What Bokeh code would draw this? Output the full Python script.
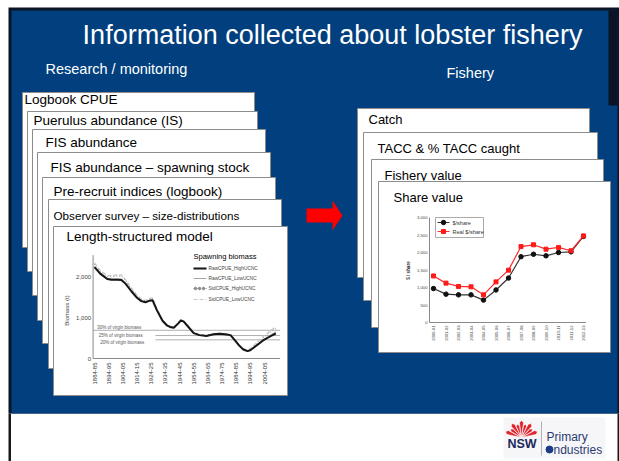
import math
from bokeh.plotting import figure
from bokeh.models import Range1d
from bokeh.core.properties import value
from bokeh.embed import file_html
from bokeh.resources import INLINE

SANS = value("Liberation Sans")

# ---------------- data ----------------
title_text = "Information collected about lobster fishery"
left_heading = "Research / monitoring"
right_heading = "Fishery"

left_cards = ["Logbook CPUE", "Puerulus abundance (IS)", "FIS abundance",
              "FIS abundance \u2013 spawning stock", "Pre-recruit indices (logbook)",
              "Observer survey \u2013 size-distributions", "Length-structured model"]
right_cards = ["Catch", "TACC & % TACC caught", "Fishery value", "Share value"]

# Spawning biomass (t) by season start year
seasons = [1884, 1888, 1893, 1896, 1900, 1903, 1906, 1910, 1914, 1917, 1920, 1923, 1925,
           1928, 1932, 1935, 1938, 1940, 1943, 1945, 1947, 1950, 1954, 1958, 1963, 1968,
           1972, 1976, 1980, 1983, 1986, 1989, 1992, 1994, 1997, 2000, 2003, 2006, 2009, 2012]
raw_high = [2230, 2070, 1940, 1920, 1920, 1915, 1820, 1640, 1480, 1400, 1370, 1410, 1420,
            1180, 920, 810, 760, 750, 850, 930, 900, 780, 620, 570, 550, 590,
            605, 590, 570, 450, 320, 220, 180, 200, 280, 360, 440, 500, 560, 610]
raw_low = [2250, 2090, 1960, 1940, 1945, 1940, 1840, 1660, 1500, 1415, 1385, 1425, 1435,
           1190, 930, 820, 770, 760, 860, 935, 905, 785, 625, 575, 555, 595,
           610, 595, 575, 455, 325, 225, 185, 205, 290, 375, 460, 525, 590, 650]
std_high = [2300, 2120, 2000, 1990, 2010, 2010, 1900, 1700, 1530, 1440, 1400, 1450, 1460,
            1210, 940, 825, 775, 765, 865, 940, 910, 790, 630, 580, 560, 600,
            615, 600, 580, 460, 330, 235, 200, 225, 315, 410, 500, 580, 660, 730]
std_low = [2330, 2150, 2030, 2020, 2040, 2040, 1920, 1720, 1545, 1455, 1415, 1470, 1480,
           1225, 950, 830, 780, 770, 870, 945, 915, 795, 635, 585, 565, 605,
           620, 605, 585, 470, 340, 245, 210, 240, 335, 440, 540, 620, 700, 770]
bio_series_names = ["RawCPUE_HighUCNC", "RawCPUE_LowUCNC", "StdCPUE_HighUCNC", "StdCPUE_LowUCNC"]
bio_legend_title = "Spawning biomass"
bio_ylabel = "Biomass (t)"
biomass_ticks = [0, 1000, 2000]
biomass_tick_labels = ["0", "1,000", "2,000"]
season_ticks = [1884, 1894, 1904, 1914, 1924, 1934, 1944, 1954, 1964, 1974, 1984, 1994, 2004]
season_tick_labels = ["1884-85", "1894-95", "1904-05", "1914-15", "1924-25", "1934-35",
                      "1944-45", "1954-55", "1964-65", "1974-75", "1984-85", "1994-95", "2004-05"]
ref_levels = [688, 560, 455]
ref_labels = ["30% of virgin biomass", "25% of virgin biomass", "20% of virgin biomass"]

# Share value ($ / share)
share_years = ["2000-01", "2001-02", "2002-03", "2003-04", "2004-05", "2005-06", "2006-07",
               "2007-08", "2008-09", "2009-10", "2010-11", "2011-12", "2012-13"]
share_nominal = [970, 810, 790, 790, 640, 930, 1270, 1880, 1950, 1905, 2000, 2020, 2460]
share_real = [1330, 1125, 1030, 1020, 790, 1160, 1495, 2170, 2220, 2095, 2145, 2050, 2475]
share_names = ["$/share", "Real $/share"]
share_ylabel = "$ / share"
share_ticks = [0, 500, 1000, 1500, 2000, 2500, 3000]
share_tick_labels = ["0", "500", "1,000", "1,500", "2,000", "2,500", "3,000"]

# ---------------- figure (slide canvas, page pixel coordinates) ----------------
p = figure(width=619, height=461, x_range=Range1d(0, 619), y_range=Range1d(461, 0),
           output_backend="svg", toolbar_location=None, min_border=0,
           x_axis_location=None, y_axis_location=None)
p.grid.visible = False
p.outline_line_color = None
p.background_fill_color = "white"
p.border_fill_color = "white"

BLUE = "#013f7e"
DARK = "#0b1424"
p.quad(left=[8], right=[619], top=[7], bottom=[413], fill_color=DARK, line_color=None)
p.quad(left=[11], right=[617], top=[10], bottom=[413], fill_color=BLUE, line_color=None)
p.quad(left=[608], right=[617], top=[10], bottom=[105], fill_color=DARK, line_color=None)
p.quad(left=[8, 617], right=[10.5, 619], top=[413, 413], bottom=[461, 461],
       fill_color="#1a1a1a", line_color=None)

p.text(x=[332], y=[34], text=[title_text], text_font=SANS, text_font_size="27px",
       text_color="white", text_align="center", text_baseline="middle")
p.text(x=[45, 446], y=[68, 72], text=[left_heading, right_heading], text_font=SANS,
       text_font_size="14.5px", text_color="white", text_baseline="middle")

# cards
left_boxes = [(22, 254, 92, 247), (27, 257, 111, 271), (32, 265, 129, 295), (37, 270, 152, 320),
              (42, 275, 177, 343), (48, 281, 199, 368), (53, 287, 226, 395)]
left_text_pos = [(24, 99), (33, 120), (45, 141.5), (50, 167), (53, 190.5), (53, 215), (66, 235.5)]
left_sizes = ["13.5px"] * 5 + ["11.7px", "13.5px"]
for (l, r, t, b), (tx, ty), lab, fs in zip(left_boxes, left_text_pos, left_cards, left_sizes):
    p.quad(left=[l], right=[r], top=[t], bottom=[b], fill_color="white",
           line_color="#8c8c8c", line_width=1)
    p.text(x=[tx], y=[ty], text=[lab], text_font=SANS, text_font_size=fs,
           text_color="black", text_baseline="middle")

right_boxes = [(357, 589, 108, 277), (363, 597, 132, 300), (371, 603, 159, 327), (378, 610, 181, 352)]
right_text_pos = [(368, 119), (377, 148.3), (384, 174.5), (393, 196.7)]
for (l, r, t, b), (tx, ty), lab in zip(right_boxes, right_text_pos, right_cards):
    p.quad(left=[l], right=[r], top=[t], bottom=[b], fill_color="white",
           line_color="#8c8c8c", line_width=1)
    p.text(x=[tx], y=[ty], text=[lab], text_font=SANS, text_font_size="13px",
           text_color="black", text_baseline="middle")

# red arrow
p.patch(x=[306, 332, 332, 342, 332, 332, 306], y=[208, 208, 200, 215, 230, 222, 222],
        fill_color="#ff0000", line_color=None)

# ---------------- biomass chart ----------------
bio = p.subplot(x_source=Range1d(1884, 2004), y_source=Range1d(0, 2000),
                x_target=Range1d(94, 264), y_target=Range1d(358, 276))
AX = "#8a8a8a"
bx_lo, bx_hi, by_top = 1883, 2015, 2520
bio.segment(x0=[bx_lo, bx_lo], y0=[0, 0], x1=[bx_hi, bx_lo], y1=[0, by_top], line_color=AX, line_width=1)
ref_start = [bx_lo, 1927, 1927]
bio.segment(x0=ref_start, x1=[bx_hi] * 3, y0=ref_levels, y1=ref_levels, line_color="#9a9a9a", line_width=0.8)
bio.text(x=[1886, 1887, 1888], y=[768, 549, 402], text=ref_labels, text_font=SANS,
         text_font_size="4.5px", text_color="#555", text_baseline="middle")

bio.line(seasons, std_low, line_color="#c8c8c8", line_width=1.2, line_dash="4 2")
bio.line(seasons, std_high, line_color="#8a8a8a", line_width=1, line_dash="1 2")
bio.line(seasons, raw_low, line_color="#a8a8a8", line_width=1)
bio.line(seasons, raw_high, line_color="#151515", line_width=2)

bio.text(x=[bx_lo] * len(biomass_ticks), y=biomass_ticks, text=biomass_tick_labels, x_offset=-2,
         text_align="right", text_baseline="middle", text_font=SANS, text_font_size="6px", text_color="#444")
bio.text(x=season_ticks, y=[0] * len(season_ticks), text=season_tick_labels, angle=math.pi / 2,
         y_offset=4, text_align="right", text_baseline="middle", text_font=SANS,
         text_font_size="6px", text_color="#333")
p.text(x=[66], y=[310], text=[bio_ylabel], angle=math.pi / 2, text_align="center",
       text_baseline="middle", text_font=SANS, text_font_size="6px", text_color="#444")

# legend (manual)
p.text(x=[193], y=[255.5], text=[bio_legend_title], text_font=SANS, text_font_size="7.5px",
       text_color="black", text_baseline="middle")
leg_y = [268, 278, 288, 299]
p.segment(x0=[193], x1=[206], y0=[leg_y[0]], y1=[leg_y[0]], line_color="#151515", line_width=2)
p.segment(x0=[193], x1=[206], y0=[leg_y[1]], y1=[leg_y[1]], line_color="#a8a8a8", line_width=1)
p.segment(x0=[193], x1=[206], y0=[leg_y[2]], y1=[leg_y[2]], line_color="#8a8a8a", line_width=1, line_dash="1 2")
p.scatter(x=[195, 199, 203], y=[leg_y[2]] * 3, size=2.5, color="#8a8a8a")
p.segment(x0=[193], x1=[206], y0=[leg_y[3]], y1=[leg_y[3]], line_color="#c8c8c8", line_width=1.2, line_dash="4 2")
p.text(x=[208] * 4, y=leg_y, text=bio_series_names, text_font=SANS, text_font_size="4.8px",
       text_color="#444", text_baseline="middle")

# ---------------- share value chart ----------------
idx = list(range(len(share_years)))
sh = p.subplot(x_source=Range1d(0, 12), y_source=Range1d(0, 3000),
               x_target=Range1d(433, 583), y_target=Range1d(322, 217))
sx_lo, sx_hi = -0.32, 12.2
sh.segment(x0=[sx_lo, sx_lo], y0=[0, 0], x1=[sx_hi, sx_lo], y1=[0, 3000], line_color=AX, line_width=1)
sh.text(x=[sx_lo] * len(share_ticks), y=share_ticks, text=share_tick_labels, x_offset=-2,
        text_align="right", text_baseline="middle", text_font=SANS, text_font_size="4.2px", text_color="#444")
sh.text(x=idx, y=[0] * len(idx), text=share_years, angle=math.pi / 2, y_offset=3,
        text_align="right", text_baseline="middle", text_font=SANS, text_font_size="4.2px", text_color="#444")
sh.line(idx, share_nominal, line_color="#333333", line_width=1.2)
sh.scatter(idx, share_nominal, marker="circle", size=4.5, color="#111111")
sh.line(idx, share_real, line_color="#ff2a2a", line_width=1.2)
sh.scatter(idx, share_real, marker="square", size=4, color="#ff1a1a")
p.text(x=[408], y=[270], text=[share_ylabel], angle=math.pi / 2, text_align="center",
       text_baseline="middle", text_font=SANS, text_font_size="4.5px", text_font_style="bold",
       text_color="#333")

p.quad(left=[435], right=[483], top=[217], bottom=[237], fill_color="white", line_color="#aaaaaa", line_width=1)
p.segment(x0=[437, 437], x1=[449, 449], y0=[222, 231], y1=[222, 231], line_color=["#333333", "#ff2a2a"], line_width=1.2)
p.scatter(x=[443], y=[222], marker="circle", size=4.5, color="#111111")
p.scatter(x=[443], y=[231], marker="square", size=4, color="#ff1a1a")
p.text(x=[452, 452], y=[222, 231], text=share_names, text_font=SANS, text_font_size="5.5px",
       text_color="#333", text_baseline="middle")

# ---------------- logo ----------------
p.quad(left=[503], right=[605], top=[417], bottom=[458], fill_color="#f6f6f8", line_color=None)
cx, cy = 521, 437
pxs, pys = [], []
for k in range(9):
    a = math.radians(160 - k * 17.5)
    r = 15 if k % 2 == 0 else 12
    w = math.radians(8)
    pxs.append([cx, cx + r * math.cos(a - w), cx + (r + 2) * math.cos(a), cx + r * math.cos(a + w)])
    pys.append([cy, cy - r * math.sin(a - w), cy - (r + 2) * math.sin(a), cy - r * math.sin(a + w)])
p.patches(xs=pxs, ys=pys, fill_color="#e0242c", line_color="white", line_width=0.6)
p.text(x=[507], y=[443.7], text=["NSW"], text_font=SANS, text_font_size="12.5px", text_font_style="bold",
       text_color="#1b2a5c", text_baseline="middle")
p.segment(x0=[541], x1=[541], y0=[421], y1=[455], line_color="#b0b0b0", line_width=1)
p.text(x=[546], y=[436.5], text=["Primary"], text_font=SANS, text_font_size="12px",
       text_color="#2b3b72", text_baseline="middle")
p.scatter(x=[549], y=[449], marker="circle", size=7, color="#1c3a8a")
p.text(x=[553], y=[449], text=["ndustries"], text_font=SANS, text_font_size="12px",
       text_color="#2b3b72", text_baseline="middle")

open("out.html", "w").write(file_html(p, INLINE))
